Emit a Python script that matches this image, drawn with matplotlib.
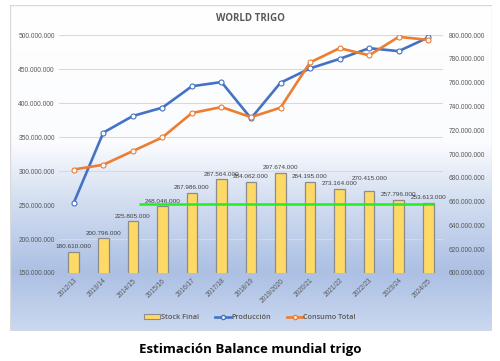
import matplotlib.pyplot as plt
import numpy as np
from matplotlib.colors import LinearSegmentedColormap
from matplotlib.lines import Line2D
from matplotlib.patches import Patch, Rectangle
from matplotlib.ticker import FuncFormatter

campaigns = ["2012/13", "2013/14", "2014/15", "2015/16", "2016/17", "2017/18", "2018/19",
             "2019/2020", "2020/21", "2021/22", "2022/23", "2023/24", "2024/25"]
stock_final = [180610000, 200796000, 225805000, 248046000, 267986000, 287564000, 284062000,
               297674000, 284195000, 273164000, 270415000, 257796000, 253613000]
produccion = [659e6, 718e6, 732e6, 739e6, 757e6, 760.5e6, 730e6,
              760e6, 772e6, 780e6, 789e6, 786.5e6, 798e6]
consumo_total = [687e6, 691e6, 702.5e6, 714e6, 734.5e6, 739.5e6, 731e6,
                 739e6, 777e6, 789e6, 783e6, 798.5e6, 796e6]
green_level = 252e6
green_span = (2.2, 12.2)

GRAY = "#595959"


def dotted(v, _pos=None):
    return f"{v:,.0f}".replace(",", ".")


fig = plt.figure(figsize=(5, 3.61), dpi=100)

# chart box with gradient background
bg = fig.add_axes([0.02, 0.083, 0.964, 0.903])
grad = LinearSegmentedColormap.from_list(
    "bg", [(0.0, "#ffffff"), (0.42, "#fbfcfe"), (0.6, "#d3def1"),
           (0.82, "#acc0e4"), (1.0, "#cbd8ef")])
bg.imshow(np.linspace(0, 1, 256).reshape(-1, 1), aspect="auto", cmap=grad,
          extent=[0, 1, 0, 1], origin="upper")
bg.add_patch(Rectangle((0, 0), 1, 1, transform=bg.transAxes, fill=False,
                       edgecolor="#d9d9d9", linewidth=1.0))
bg.set_xlim(0, 1)
bg.set_ylim(0, 1)
bg.set_axis_off()

ax = fig.add_axes([0.118, 0.2438, 0.768, 0.659])
ax.patch.set_alpha(0)
x = np.arange(len(campaigns))
bars = ax.bar(x, stock_final, width=0.36, color="#ffd966", edgecolor="#8c8c8c",
              linewidth=0.9, zorder=2)
for i, (b, v) in enumerate(zip(bars, stock_final)):
    dy = 7 if i == 10 else 2
    ax.annotate(dotted(v), (b.get_x() + b.get_width() / 2, v), xytext=(0, dy),
                textcoords="offset points", ha="center", va="bottom",
                fontsize=4.6, color="#404040", family="Liberation Sans")
ax.hlines(green_level, *green_span, color="#22ee22", linewidth=1.8, zorder=3)
ax.set_ylim(150e6, 500e6)
ax.set_yticks(np.arange(150e6, 500e6 + 1, 50e6))
ax.yaxis.set_major_formatter(FuncFormatter(dotted))
ax.set_xlim(-0.5, len(campaigns) - 0.5)
ax.set_xticks(x)
ax.set_xticklabels(campaigns, rotation=45, ha="right", rotation_mode="anchor")
ax.grid(axis="y", color="#d9d9d9", linewidth=0.8, zorder=0)
ax.set_axisbelow(True)
ax.tick_params(length=0, labelsize=4.8, colors=GRAY, pad=3)
for lbl in ax.get_xticklabels() + ax.get_yticklabels():
    lbl.set_family("Liberation Sans")
for s in ax.spines.values():
    s.set_visible(False)

ax2 = ax.twinx()
ax2.plot(x, produccion, color="#4472c4", linewidth=1.9, marker="o", markersize=3.6,
         markerfacecolor="white", markeredgecolor="#4472c4", markeredgewidth=0.8)
ax2.plot(x, consumo_total, color="#ed7d31", linewidth=1.9, marker="o", markersize=3.6,
         markerfacecolor="white", markeredgecolor="#ed7d31", markeredgewidth=0.8)
ax2.set_ylim(600e6, 800e6)
ax2.set_yticks(np.arange(600e6, 800e6 + 1, 20e6))
ax2.yaxis.set_major_formatter(FuncFormatter(dotted))
ax2.tick_params(length=0, labelsize=4.8, colors=GRAY, pad=4)
for lbl in ax2.get_yticklabels():
    lbl.set_family("Liberation Sans")
for s in ax2.spines.values():
    s.set_visible(False)

fig.text(0.5, 0.95, "WORLD TRIGO", ha="center", va="center", fontsize=7,
         fontweight="bold", color=GRAY, family="Open Sans")

handles = [
    Patch(facecolor="#ffd966", edgecolor="#8c8c8c", linewidth=0.8),
    Line2D([], [], color="#4472c4", linewidth=1.9, marker="o", markersize=3,
           markerfacecolor="white"),
    Line2D([], [], color="#ed7d31", linewidth=1.9, marker="o", markersize=3,
           markerfacecolor="white"),
]
fig.legend(handles, ["Stock Final", "Producción", "Consumo Total"], loc="center",
           bbox_to_anchor=(0.5, 0.12), ncol=3, frameon=False, handlelength=2.2,
           handletextpad=0.1, columnspacing=2.2,
           prop={"family": "Open Sans", "size": 5.2, "weight": "semibold"},
           labelcolor=GRAY)

fig.text(0.5, 0.032, "Estimación Balance mundial trigo", ha="center", va="center",
         fontsize=9.5, fontweight="bold", color="black", family="Open Sans")

fig.savefig("out.png", dpi=100)
